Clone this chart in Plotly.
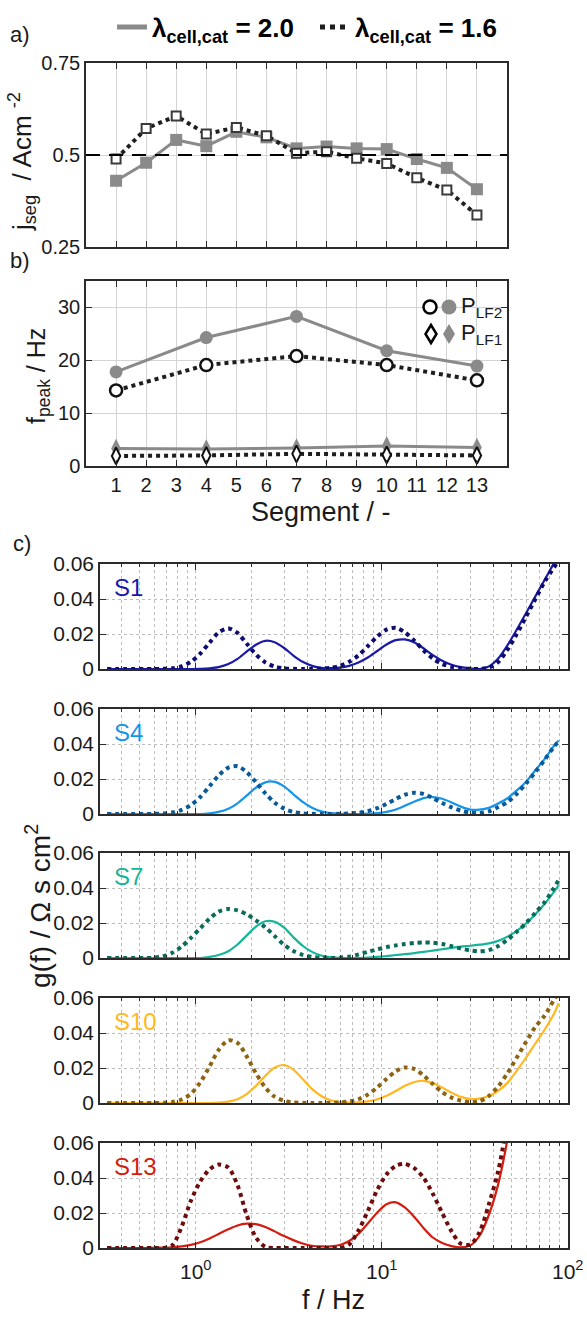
import math
import plotly.graph_objects as go

W, H = 587, 1319
FONT = "Liberation Sans, Arial, sans-serif"

# ---------------- data ----------------
segments = list(range(1, 14))
seg_ticktext = [str(s) for s in segments]
j_seg_lam20 = [0.430, 0.479, 0.541, 0.524, 0.563, 0.548, 0.518, 0.523, 0.518, 0.516, 0.489, 0.465, 0.407]
j_seg_lam16 = [0.489, 0.572, 0.606, 0.557, 0.575, 0.552, 0.505, 0.509, 0.491, 0.477, 0.438, 0.405, 0.337]
j_nominal = 0.5

peak_segments = [1, 4, 7, 10, 13]
f_LF2_lam20 = [17.8, 24.3, 28.3, 21.8, 18.9]
f_LF2_lam16 = [14.3, 19.1, 20.8, 19.1, 16.2]
f_LF1_lam20 = [3.3, 3.2, 3.4, 3.8, 3.5]
f_LF1_lam16 = [1.9, 2.0, 2.3, 2.1, 2.0]

freq_hz = [0.335, 0.376, 0.422, 0.473, 0.531, 0.596, 0.668, 0.75, 0.841, 0.944,
           1.06, 1.19, 1.33, 1.5, 1.68, 1.88, 2.11, 2.37, 2.66, 2.99,
           3.35, 3.76, 4.22, 4.73, 5.31, 5.96, 6.68, 7.5, 8.41, 9.44,
           10.6, 11.9, 13.3, 15.0, 16.8, 18.8, 21.1, 23.7, 26.6, 29.9,
           33.5, 37.6, 42.2, 47.3, 53.1, 59.6, 66.8, 75.0, 84.1, 89.1]

g_S1_lam20 = [0, 0, 0, 0, 0, 0, 0, 0, 0, 0,
              0.0001, 0.0004, 0.0011, 0.0028, 0.0058, 0.0099, 0.0139, 0.0161, 0.0153, 0.0120,
              0.0077, 0.0041, 0.0018, 0.0006, 0.0005, 0.0008, 0.0018, 0.0037, 0.0066, 0.0103,
              0.0140, 0.0165, 0.0169, 0.0151, 0.0117, 0.0079, 0.0047, 0.0024, 0.0011, 0.0004,
              0.0000, 0.0015, 0.0060, 0.0135, 0.0225, 0.0320, 0.0415, 0.0510, 0.0605, 0.0650]
g_S1_lam16 = [0, 0, 0, 0, 0, 0, 0.0001, 0.0004, 0.0015, 0.0041,
              0.0088, 0.0151, 0.0209, 0.0232, 0.0206, 0.0146, 0.0083, 0.0038, 0.0014, 0.0004,
              0.0001, 0, 0, 0.0002, 0.0007, 0.0018, 0.0041, 0.0078, 0.0130, 0.0185,
              0.0225, 0.0235, 0.0210, 0.0161, 0.0106, 0.0060, 0.0029, 0.0012, 0.0004, 0.0001,
              0.0000, 0.0008, 0.0040, 0.0110, 0.0200, 0.0300, 0.0400, 0.0500, 0.0580, 0.0620]
g_S4_lam20 = [0, 0, 0, 0, 0, 0, 0, 0, 0, 0,
              0, 0.0004, 0.0012, 0.0030, 0.0061, 0.0105, 0.0150, 0.0181, 0.0184, 0.0158,
              0.0113, 0.0069, 0.0036, 0.0015, 0.0005, 0.0001, 0, 0, 0.0002, 0.0005,
              0.0012, 0.0026, 0.0047, 0.0071, 0.0091, 0.0097, 0.0087, 0.0066, 0.0042, 0.0025,
              0.0025, 0.0035, 0.0060, 0.0090, 0.0135, 0.0185, 0.0250, 0.0315, 0.0390, 0.0420]
g_S4_lam16 = [0, 0, 0, 0, 0, 0.0001, 0.0003, 0.0009, 0.0023, 0.0051,
              0.0097, 0.0159, 0.0220, 0.0265, 0.0273, 0.0240, 0.0182, 0.0118, 0.0065, 0.0031,
              0.0012, 0.0004, 0.0001, 0, 0, 0.0001, 0.0003, 0.0007, 0.0016, 0.0033,
              0.0058, 0.0086, 0.0110, 0.0121, 0.0114, 0.0091, 0.0063, 0.0038, 0.0019, 0.0008,
              0.0006, 0.0015, 0.0040, 0.0068, 0.0115, 0.0175, 0.0240, 0.0310, 0.0385, 0.0415]
g_S7_lam20 = [0, 0, 0, 0, 0, 0, 0, 0, 0, 0,
              0, 0.0006, 0.0017, 0.0039, 0.0077, 0.0128, 0.0179, 0.0210, 0.0207, 0.0173,
              0.0119, 0.0070, 0.0035, 0.0014, 0.0005, 0.0001, 0, 0, 0.0002, 0.0006,
              0.0011, 0.0017, 0.0022, 0.0028, 0.0035, 0.0042, 0.0050, 0.0058, 0.0065, 0.0070,
              0.0076, 0.0084, 0.0098, 0.0122, 0.0155, 0.0198, 0.0250, 0.0310, 0.0378, 0.0415]
g_S7_lam16 = [0, 0, 0, 0, 0, 0.0001, 0.0010, 0.0030, 0.0065, 0.0115,
              0.0170, 0.0225, 0.0265, 0.0280, 0.0272, 0.0250, 0.0215, 0.0175, 0.0125, 0.0075,
              0.0040, 0.0018, 0.0007, 0.0002, 0.0000, 0.0002, 0.0008, 0.0020, 0.0035, 0.0049,
              0.0062, 0.0072, 0.0080, 0.0086, 0.0089, 0.0088, 0.0080, 0.0068, 0.0054, 0.0043,
              0.0038, 0.0045, 0.0068, 0.0105, 0.0150, 0.0200, 0.0258, 0.0320, 0.0400, 0.0445]
g_S10_lam20 = [0, 0, 0, 0, 0, 0, 0, 0, 0, 0,
               0, 0, 0.0002, 0.0008, 0.0022, 0.0051, 0.0098, 0.0155, 0.0203, 0.0217,
               0.0191, 0.0137, 0.0081, 0.0040, 0.0016, 0.0005, 0.0002, 0.0004, 0.0009, 0.0021,
               0.0041, 0.0069, 0.0098, 0.0120, 0.0127, 0.0114, 0.0088, 0.0059, 0.0035, 0.0024,
               0.0025, 0.0040, 0.0070, 0.0115, 0.0185, 0.0260, 0.0340, 0.0420, 0.0510, 0.0570]
g_S10_lam16 = [0, 0, 0, 0, 0, 0, 0.0001, 0.0006, 0.0020, 0.0052,
               0.0118, 0.0209, 0.0303, 0.0358, 0.0344, 0.0268, 0.0170, 0.0088, 0.0036, 0.0012,
               0.0003, 0.0001, 0, 0, 0.0001, 0.0003, 0.0009, 0.0022, 0.0048, 0.0089,
               0.0137, 0.0182, 0.0203, 0.0194, 0.0157, 0.0108, 0.0062, 0.0031, 0.0013, 0.0005,
               0.0010, 0.0040, 0.0095, 0.0170, 0.0260, 0.0350, 0.0435, 0.0500, 0.0590, 0.0630]
g_S13_lam20 = [0, 0, 0, 0, 0, 0.0001, 0.0002, 0.0004, 0.0009, 0.0018,
               0.0033, 0.0055, 0.0080, 0.0107, 0.0129, 0.0139, 0.0136, 0.0120, 0.0095, 0.0068,
               0.0045, 0.0026, 0.0013, 0.0009, 0.0009, 0.0017, 0.0040, 0.0081, 0.0140, 0.0202,
               0.0250, 0.0261, 0.0232, 0.0176, 0.0113, 0.0060, 0.0029, 0.0011, 0.0004, 0.0015,
               0.0070, 0.0190, 0.0365, 0.0620, 0.0950, None, None, None, None, None]
g_S13_lam16 = [0, 0, 0, 0, 0, 0, 0, 0.0015, 0.0120, 0.0270,
               0.0380, 0.0450, 0.0477, 0.0460, 0.0360, 0.0190, 0.0060, 0.0006, 0, 0,
               0, 0, 0, 0, 0, 0, 0.0020, 0.0100, 0.0210, 0.0330,
               0.0420, 0.0470, 0.0480, 0.0455, 0.0400, 0.0310, 0.0200, 0.0095, 0.0025, 0.0020,
               0.0090, 0.0250, 0.0440, 0.0720, None, None, None, None, None, None]

segment_labels = ["S1", "S4", "S7", "S10", "S13"]
g_lam20_series = [g_S1_lam20, g_S4_lam20, g_S7_lam20, g_S10_lam20, g_S13_lam20]
g_lam16_series = [g_S1_lam16, g_S4_lam16, g_S7_lam16, g_S10_lam16, g_S13_lam16]
colors_lam20 = ["#1a1aa6", "#1495ea", "#16b59a", "#ffb81e", "#d41c0e"]
colors_lam16 = ["#0d0d70", "#0b5a98", "#0b6b5a", "#8d6414", "#6e0c0c"]

g_tickvals = [0, 0.02, 0.04, 0.06]
g_ticktext = ["0", "0.02", "0.04", "0.06"]
f_tickvals = [1, 10, 100]
f_ticktext = ["10<sup>0</sup>", "10<sup>1</sup>", "10<sup>2</sup>"]
f_minor_vals = [0.4, 0.5, 0.6, 0.7, 0.8, 0.9, 2, 3, 4, 5, 6, 7, 8, 9,
                20, 30, 40, 50, 60, 70, 80, 90]

# ---------------- layout helpers ----------------
def ydom(top_px, bot_px):
    return [1 - bot_px / H, 1 - top_px / H]

def xdom(l_px, r_px):
    return [l_px / W, r_px / W]

def px_x(x):
    return x / W

def px_y(y):
    return 1 - y / H

AX = "#2b2b2b"
GRID_AB = "#d4d4d4"
GRID_C = "#bdbdbd"
GRAY = "#8a8a8a"
DARK = "#1e1e1e"
TXT = "#1a1a1a"

fig = go.Figure()

# ---- legend-only traces ----
fig.add_trace(go.Scatter(x=[None], y=[None], mode="lines",
                         line=dict(color=GRAY, width=5),
                         name="<b>λ<sub>cell,cat</sub> = 2.0</b>", xaxis="x", yaxis="y"))
fig.add_trace(go.Scatter(x=[None], y=[None], mode="lines",
                         line=dict(color=DARK, width=5, dash="dot"),
                         name="<b>λ<sub>cell,cat</sub> = 1.6</b>", xaxis="x", yaxis="y"))

# ---- panel a ----
fig.add_trace(go.Scatter(x=segments, y=j_seg_lam20, mode="lines+markers",
                         line=dict(color=GRAY, width=3),
                         marker=dict(symbol="square", size=12, color=GRAY),
                         showlegend=False, xaxis="x", yaxis="y"))
fig.add_trace(go.Scatter(x=segments, y=j_seg_lam16, mode="lines+markers",
                         line=dict(color=DARK, width=4, dash="dot"),
                         marker=dict(symbol="square", size=9, color="white",
                                     line=dict(color="#3a3a3a", width=2)),
                         showlegend=False, xaxis="x", yaxis="y"))

# ---- panel b ----
fig.add_trace(go.Scatter(x=peak_segments, y=f_LF2_lam20, mode="lines+markers",
                         line=dict(color=GRAY, width=3),
                         marker=dict(symbol="circle", size=13, color=GRAY),
                         showlegend=False, xaxis="x2", yaxis="y2"))
fig.add_trace(go.Scatter(x=peak_segments, y=f_LF2_lam16, mode="lines+markers",
                         line=dict(color=DARK, width=4, dash="dot"),
                         marker=dict(symbol="circle", size=12, color="white",
                                     line=dict(color="#111111", width=2.5)),
                         showlegend=False, xaxis="x2", yaxis="y2"))
fig.add_trace(go.Scatter(x=peak_segments, y=f_LF1_lam20, mode="lines+markers",
                         line=dict(color=GRAY, width=3),
                         marker=dict(symbol="diamond-tall", size=14, color=GRAY),
                         showlegend=False, xaxis="x2", yaxis="y2"))
fig.add_trace(go.Scatter(x=peak_segments, y=f_LF1_lam16, mode="lines+markers",
                         line=dict(color=DARK, width=4, dash="dot"),
                         marker=dict(symbol="diamond-tall", size=12, color="white",
                                     line=dict(color="#111111", width=2)),
                         showlegend=False, xaxis="x2", yaxis="y2"))

# ---- panel c ----
c_tops = [564, 709, 853, 998, 1143]
c_height = 105
for i, lab in enumerate(segment_labels):
    xa = "x%d" % (i + 3)
    ya = "y%d" % (i + 3)
    fig.add_trace(go.Scatter(x=freq_hz, y=g_lam20_series[i], mode="lines",
                             line=dict(color=colors_lam20[i], width=2.2, shape="spline", smoothing=0.8),
                             showlegend=False, xaxis=xa, yaxis=ya, connectgaps=False))
    fig.add_trace(go.Scatter(x=freq_hz, y=g_lam16_series[i], mode="lines",
                             line=dict(color=colors_lam16[i], width=4, dash="dot", shape="spline", smoothing=0.8),
                             showlegend=False, xaxis=xa, yaxis=ya, connectgaps=False))

common_ab = dict(showline=True, linecolor=AX, linewidth=1.5, mirror="ticks", automargin=False,
                 ticks="inside", ticklen=6, tickcolor=AX, tickwidth=1.3,
                 showgrid=True, gridcolor=GRID_AB, gridwidth=1.2, zeroline=False,
                 tickfont=dict(size=20, color=TXT, family=FONT))

layout = dict(
    width=W, height=H, margin=dict(l=0, r=0, t=0, b=0, autoexpand=False),
    paper_bgcolor="white", plot_bgcolor="white",
    font=dict(family=FONT, color=TXT),
    showlegend=True,
    legend=dict(orientation="h", x=px_x(112), y=px_y(27), xanchor="left", yanchor="middle",
                font=dict(size=26, family=FONT, color="#000"),
                bgcolor="rgba(0,0,0,0)", itemwidth=30, tracegroupgap=0,
                entrywidth=158, entrywidthmode="pixels"),
    xaxis=dict(domain=xdom(86, 507), range=[0, 14], tickvals=segments,
               showticklabels=False, anchor="y", **common_ab),
    yaxis=dict(domain=ydom(63, 247), range=[0.25, 0.75], tickvals=[0.25, 0.5, 0.75],
               ticktext=["0.25", "0.5", "0.75"], anchor="x", **common_ab),
    xaxis2=dict(domain=xdom(86, 507), range=[0, 14], tickvals=segments, ticktext=seg_ticktext,
                anchor="y2", **common_ab),
    yaxis2=dict(domain=ydom(281, 466), range=[0, 35], tickvals=[0, 10, 20, 30],
                anchor="x2", **common_ab),
)

for i in range(5):
    n = i + 3
    top = c_tops[i]
    layout["xaxis%d" % n] = dict(
        domain=xdom(100, 568), type="log", range=[-0.513, 2.0],
        tickvals=f_tickvals, showticklabels=False, automargin=False,
        anchor="y%d" % n, showline=True, linecolor=AX, linewidth=1.5, mirror="ticks",
        ticks="inside", ticklen=6, tickcolor=AX, tickwidth=1.3,
        showgrid=True, gridcolor=GRID_C, griddash="dot", gridwidth=1.2, zeroline=False,
        tickfont=dict(size=21, color=TXT, family=FONT),
        minor=dict(tickvals=f_minor_vals, ticks="inside", ticklen=3.5, tickcolor=AX,
                   showgrid=True, gridcolor=GRID_C, griddash="dot", gridwidth=1.2),
    )
    layout["yaxis%d" % n] = dict(
        domain=ydom(top, top + c_height), range=[0, 0.06], tickvals=g_tickvals, ticktext=g_ticktext,
        anchor="x%d" % n, showline=True, linecolor=AX, linewidth=1.5, mirror="ticks", automargin=False,
        ticks="inside", ticklen=6, tickcolor=AX, tickwidth=1.3,
        showgrid=True, gridcolor=GRID_C, griddash="dot", gridwidth=1.2, zeroline=False,
        tickfont=dict(size=21, color=TXT, family=FONT),
    )

fig.update_layout(**layout)

# ---- nominal current density line ----
fig.add_shape(type="line", xref="x domain", yref="y", x0=0, x1=1, y0=j_nominal, y1=j_nominal,
              line=dict(color="#000", width=2, dash="14px,9px"), layer="above")

# ---- panel b marker legend (shapes) ----
def circ(cx, cy, r, **kw):
    fig.add_shape(type="circle", xref="paper", yref="paper",
                  x0=px_x(cx - r), x1=px_x(cx + r), y0=px_y(cy + r), y1=px_y(cy - r), **kw)

def diam(cx, cy, hw, hh, **kw):
    path = "M %f,%f L %f,%f L %f,%f L %f,%f Z" % (
        px_x(cx), px_y(cy - hh), px_x(cx + hw), px_y(cy), px_x(cx), px_y(cy + hh), px_x(cx - hw), px_y(cy))
    fig.add_shape(type="path", xref="paper", yref="paper", path=path, **kw)

circ(430, 307, 6.5, line=dict(color="#000", width=2.5), fillcolor="white")
circ(449, 307, 7.5, line=dict(color=GRAY, width=0), fillcolor=GRAY)
diam(431, 334, 5.5, 9, line=dict(color="#000", width=2.5), fillcolor="white")
diam(449, 334, 6, 10, line=dict(color=GRAY, width=0), fillcolor=GRAY)

ann = []
ann.append(dict(x=px_x(459), y=px_y(307), xref="paper", yref="paper", xanchor="left", yanchor="middle",
                text="P<sub>LF2</sub>", showarrow=False, font=dict(size=22, color=TXT, family=FONT)))
ann.append(dict(x=px_x(459), y=px_y(334), xref="paper", yref="paper", xanchor="left", yanchor="middle",
                text="P<sub>LF1</sub>", showarrow=False, font=dict(size=22, color=TXT, family=FONT)))

# panel labels
for lab, (xx, yy) in zip(["a)", "b)", "c)"], [(20, 34), (20, 260), (22, 543)]):
    ann.append(dict(x=px_x(xx), y=px_y(yy), xref="paper", yref="paper", xanchor="center", yanchor="middle",
                    text=lab, showarrow=False, font=dict(size=22, color=TXT, family=FONT)))

# axis titles
ann.append(dict(x=px_x(22), y=px_y(162), xref="paper", yref="paper", xanchor="center", yanchor="middle",
                text="j<sub>seg</sub>  / Acm <sup>-2</sup>", textangle=-90, showarrow=False,
                font=dict(size=26, color=TXT, family=FONT)))
ann.append(dict(x=px_x(38), y=px_y(376), xref="paper", yref="paper", xanchor="center", yanchor="middle",
                text="f<sub>peak</sub> / Hz", textangle=-90, showarrow=False,
                font=dict(size=25, color=TXT, family=FONT)))
ann.append(dict(x=px_x(321), y=px_y(512), xref="paper", yref="paper", xanchor="center", yanchor="middle",
                text="Segment / -", showarrow=False, font=dict(size=27, color=TXT, family=FONT)))
ann.append(dict(x=px_x(38), y=px_y(906), xref="paper", yref="paper", xanchor="center", yanchor="middle",
                text="g(f) / Ω s cm<sup>2</sup>", textangle=-90, showarrow=False,
                font=dict(size=28, color=TXT, family=FONT)))
ann.append(dict(x=px_x(333), y=px_y(1300), xref="paper", yref="paper", xanchor="center", yanchor="middle",
                text="f / Hz", showarrow=False, font=dict(size=27, color=TXT, family=FONT)))

# bottom frequency tick labels (placed on the log axis of the last panel)
for v, t in zip(f_tickvals, f_ticktext):
    ann.append(dict(x=math.log10(v), y=px_y(1270), xref="x7", yref="paper", xanchor="center",
                    yanchor="middle", text=t, showarrow=False,
                    font=dict(size=21, color=TXT, family=FONT)))

# S labels
for i, lab in enumerate(segment_labels):
    n = i + 3
    ann.append(dict(x=0.025, y=0.78, xref="x%d domain" % n, yref="y%d domain" % n,
                    xanchor="left", yanchor="middle", text=lab, showarrow=False,
                    font=dict(size=24, color=colors_lam20[i], family=FONT)))

fig.update_layout(annotations=ann)

fig.write_html("out.html")
